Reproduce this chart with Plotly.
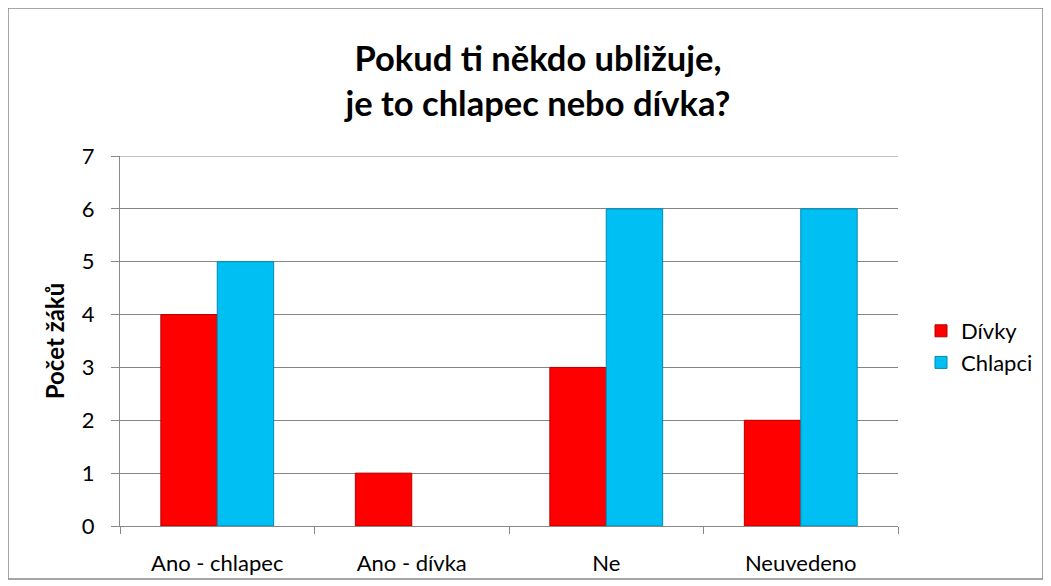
import plotly.graph_objects as go

categories = ["Ano - chlapec", "Ano - dívka", "Ne", "Neuvedeno"]
divky = [4, 1, 3, 2]
chlapci = [5, 0, 6, 6]
y_ticks = [0, 1, 2, 3, 4, 5, 6, 7]

FONT = "Lato, 'Open Sans', sans-serif"

# page body has an 8px margin, so the figure is drawn 8px right/down
OFF = 8
W, H = 1051 - OFF, 586 - OFF
L, R, T, B = 120 - OFF, 1051 - 898, 156 - OFF, 586 - 526
pw, ph = W - L - R, H - T - B


def px_x(p):  # screenshot px -> paper x
    return (p - OFF - L) / pw


def px_y(q):  # screenshot px -> paper y
    return (H - B - (q - OFF)) / ph


fig = go.Figure()
fig.add_trace(go.Bar(name="Dívky", x=categories, y=divky,
                     marker=dict(color="#FF0000",
                                 line=dict(color="#B40000", width=[1 if v else 0 for v in divky]))))
fig.add_trace(go.Bar(name="Chlapci", x=categories, y=chlapci,
                     marker=dict(color="#00BFF3",
                                 line=dict(color="#0089B3", width=[1 if v else 0 for v in chlapci]))))

fig.update_layout(
    width=W, height=H,
    margin=dict(l=L, r=R, t=T, b=B),
    paper_bgcolor="white", plot_bgcolor="white",
    font=dict(family=FONT, size=22, color="black"),
    barmode="group", bargap=0.42, bargroupgap=0,
    title=dict(text="Pokud ti někdo ubližuje,<br>je to chlapec nebo dívka?",
               x=(538 - OFF) / W, xanchor="center",
               y=1 - (71 - OFF) / H, yanchor="middle",
               font=dict(family=FONT, size=34.5, color="black", weight="bold")),
    legend=dict(x=px_x(921), y=px_y(347), xanchor="left", yanchor="middle",
                font=dict(size=22), bgcolor="rgba(0,0,0,0)"),
    xaxis=dict(showline=True, linecolor="#888888", linewidth=1, automargin=False,
               ticks="outside", tickson="boundaries", ticklen=7, tickcolor="#888888",
               showgrid=False, ticklabelstandoff=18),
    yaxis=dict(range=[0, 7], tickvals=y_ticks, showline=True, linecolor="#888888",
               linewidth=1, ticks="outside", ticklen=8, tickcolor="#888888",
               showgrid=True, gridcolor="#858585", gridwidth=1, zeroline=False,
               ticklabelstandoff=12, automargin=False,
               title=dict(text="<b>Počet žáků</b>", font=dict(size=24), standoff=10)),
    shapes=[
        dict(type="rect", xref="paper", yref="paper",
             x0=px_x(8), x1=px_x(1043), y0=px_y(579), y1=px_y(8),
             line=dict(color="#888888", width=1.5), layer="below"),
        dict(type="line", xref="paper", yref="y", x0=0, x1=1, y0=7, y1=7,
             line=dict(color="#858585", width=1), layer="below"),
    ],
)

fig.write_html("out.html")
